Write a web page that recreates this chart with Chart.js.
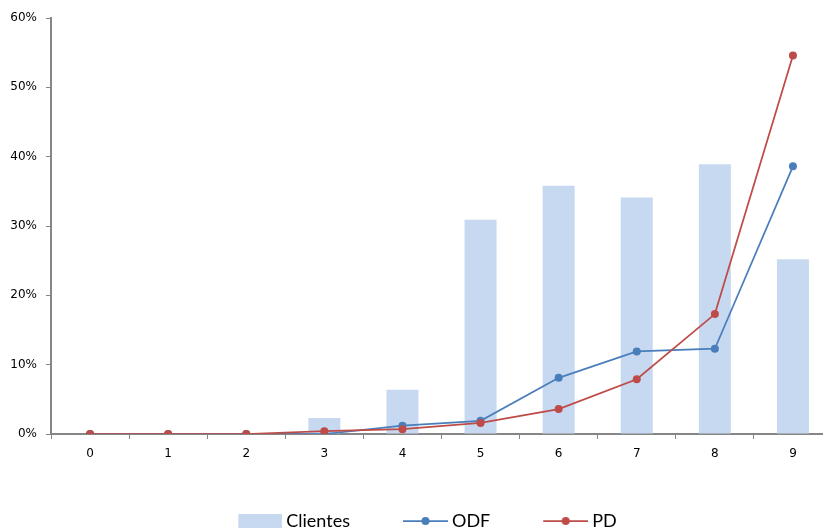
<!DOCTYPE html>
<html><head><meta charset="utf-8">
<script src="https://cdn.jsdelivr.net/npm/chart.js@4/dist/chart.umd.min.js"></script>
<style>html,body{margin:0;padding:0;background:#fff;overflow:hidden}#wrap{width:823px;height:529px;overflow:hidden}</style>
</head><body><div id="wrap"><canvas id="c" width="836" height="529"></canvas></div>
<script>
const categories = ['0','1','2','3','4','5','6','7','8','9'];
const clientes = [0, 0, 0, 2.3, 6.4, 30.9, 35.8, 34.1, 38.9, 25.2];
const odf = [0, 0, 0, 0, 1.2, 1.9, 8.1, 11.9, 12.3, 38.6];
const pd = [0, 0, 0, 0.4, 0.7, 1.6, 3.6, 7.9, 17.3, 54.6];
const yTicks = [0, 10, 20, 30, 40, 50, 60];

const barColor = '#C6D9F1', odfColor = '#4A7EBB', pdColor = '#BE4B48', axisColor = '#868686';

// legend icons: 55px wide canvas, graphic placed in the right part so text gap is small
function boxIcon(){const c=document.createElement('canvas');c.width=55;c.height=14;const x=c.getContext('2d');x.fillStyle=barColor;x.fillRect(11,0,44,14);return c;}
function lineIcon(col){const c=document.createElement('canvas');c.width=55;c.height=10;const x=c.getContext('2d');x.strokeStyle=col;x.lineWidth=1.75;x.beginPath();x.moveTo(10,5);x.lineTo(55,5);x.stroke();x.fillStyle=col;x.beginPath();x.arc(32.5,5,4,0,Math.PI*2);x.fill();return c;}
const icons=[boxIcon(), lineIcon(odfColor), lineIcon(pdColor)];

const shiftLegend = {
  id:'shiftLegend',
  afterLayout(chart){ const l=chart.legend; if(l && !l._shifted){ l.left+=6.5; l.right+=6.5; l._shifted=true; } }
};

new Chart(document.getElementById('c'), {
  data: {
    labels: categories,
    datasets: [
      {type:'bar', label:'Clientes', data:clientes, backgroundColor:barColor, borderWidth:0, order:3, categoryPercentage:1, barPercentage:0.41},
      {type:'line', label:'ODF', data:odf, borderColor:odfColor, backgroundColor:odfColor, borderWidth:1.75, pointRadius:4, pointHoverRadius:4, pointBackgroundColor:odfColor, pointBorderWidth:0, order:2, tension:0},
      {type:'line', label:'PD', data:pd, borderColor:pdColor, backgroundColor:pdColor, borderWidth:1.75, pointRadius:4, pointHoverRadius:4, pointBackgroundColor:pdColor, pointBorderWidth:0, order:1, tension:0}
    ]
  },
  plugins:[shiftLegend],
  options: {
    responsive:false, animation:false, devicePixelRatio:1,
    layout:{padding:{top:18, right:0, left:0, bottom:-11}},
    plugins:{
      tooltip:{enabled:false},
      legend:{position:'bottom',
        labels:{usePointStyle:true, pointStyleWidth:45, padding:48, color:'#000',
          font:{family:'Lato', size:18},
          generateLabels:(chart)=>chart.data.datasets.map((d,i)=>({text:d.label, datasetIndex:i, pointStyle:icons[i], fillStyle:'transparent', strokeStyle:'transparent', lineWidth:0, hidden:false, fontColor:'#000'}))
        }}
    },
    scales:{
      x:{offset:true,
        grid:{offset:true, drawOnChartArea:false, drawTicks:true, tickLength:5, color:axisColor, lineWidth:1},
        border:{display:true, color:axisColor, width:2},
        ticks:{color:'#000', font:{family:'DejaVu Sans', size:12}, padding:8, maxRotation:0},
        afterFit:(s)=>{s.height=30; s.paddingRight=0; s.paddingLeft=0;}
      },
      y:{min:0, max:60,
        afterBuildTicks:(s)=>{s.ticks=yTicks.map(v=>({value:v}));},
        grid:{drawOnChartArea:false, drawTicks:true, tickLength:5, color:axisColor, lineWidth:1},
        border:{display:true, color:axisColor, width:2},
        ticks:{color:'#000', font:{family:'DejaVu Sans', size:12}, padding:9, callback:(v)=>v+'%'},
        afterFit:(s)=>{s.width=51;}
      }
    }
  }
});
</script></body></html>
